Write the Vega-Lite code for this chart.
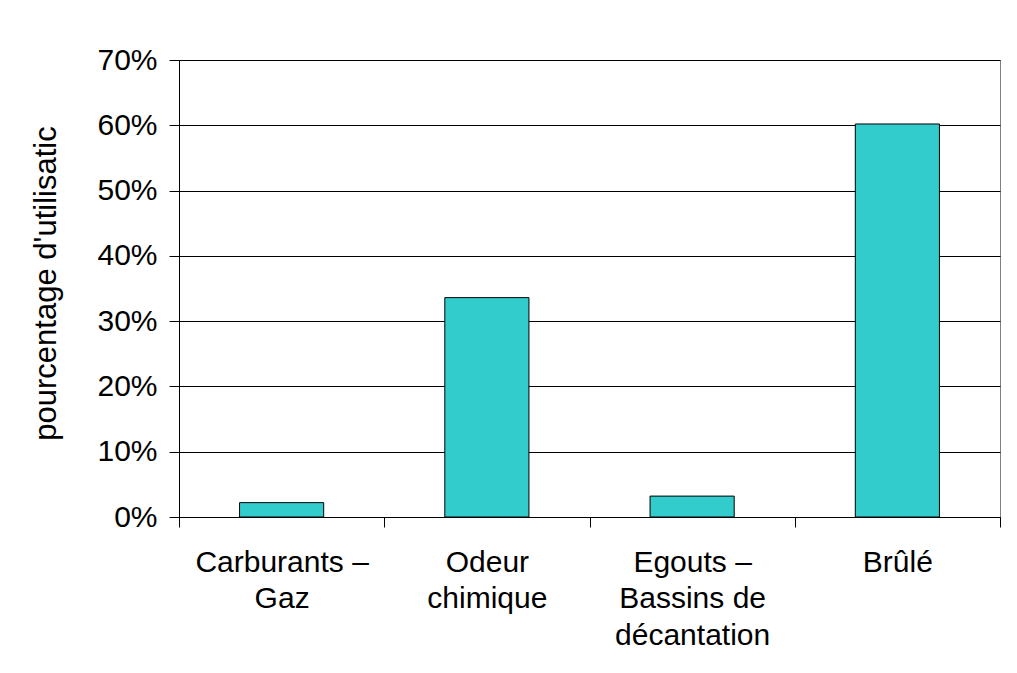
{
  "$schema": "https://vega.github.io/schema/vega-lite/v6.json",
  "autosize": "none",
  "width": 821,
  "height": 457,
  "padding": {"left": 179, "top": 60, "right": 17, "bottom": 156},
  "background": "white",
  "config": {
    "view": {"stroke": "#808080", "strokeWidth": 1},
    "font": "Liberation Sans"
  },
  "data": {
    "values": [
      {"categorie": "Carburants – Gaz", "pourcentage": 0.022},
      {"categorie": "Odeur chimique", "pourcentage": 0.336},
      {"categorie": "Egouts – Bassins de décantation", "pourcentage": 0.032},
      {"categorie": "Brûlé", "pourcentage": 0.602}
    ]
  },
  "mark": {"type": "bar", "fill": "#33CCCC", "stroke": "#000000", "strokeWidth": 1, "width": {"band": 0.41}},
  "encoding": {
    "x": {
      "field": "categorie",
      "type": "nominal",
      "sort": null,
      "scale": {"paddingInner": 0, "paddingOuter": 0},
      "axis": {
        "title": null,
        "labelAngle": 0,
        "labelFont": "Liberation Sans",
        "labelFontSize": 30,
        "labelColor": "#000000",
        "labelLineHeight": 36.5,
        "labelPadding": 20,
        "labelBaseline": "top",
        "labelLimit": 400,
        "tickBand": "extent",
        "tickSize": 10,
        "tickColor": "#000000",
        "domainColor": "#000000",
        "grid": false,
        "labelExpr": "datum.label == 'Carburants – Gaz' ? ['Carburants –', 'Gaz'] : datum.label == 'Odeur chimique' ? ['Odeur', 'chimique'] : datum.label == 'Egouts – Bassins de décantation' ? ['Egouts –', 'Bassins de', 'décantation'] : datum.label"
      }
    },
    "y": {
      "field": "pourcentage",
      "type": "quantitative",
      "scale": {"domain": [0, 0.7], "nice": false},
      "axis": {
        "title": "pourcentage d'utilisatic",
        "titleFont": "Liberation Sans",
        "titleFontSize": 31,
        "titleFontWeight": "normal",
        "titleColor": "#000000",
        "titleAngle": -90,
        "titleAlign": "center",
        "titleBaseline": "alphabetic",
        "titleX": -124,
        "titleY": 223,
        "values": [0, 0.1, 0.2, 0.3, 0.4, 0.5, 0.6, 0.7],
        "format": ".0%",
        "labelFont": "Liberation Sans",
        "labelFontSize": 30,
        "labelColor": "#000000",
        "labelPadding": 12,
        "tickSize": 10,
        "tickColor": "#000000",
        "domainColor": "#000000",
        "grid": true,
        "gridColor": "#000000",
        "gridWidth": 1
      }
    }
  }
}
